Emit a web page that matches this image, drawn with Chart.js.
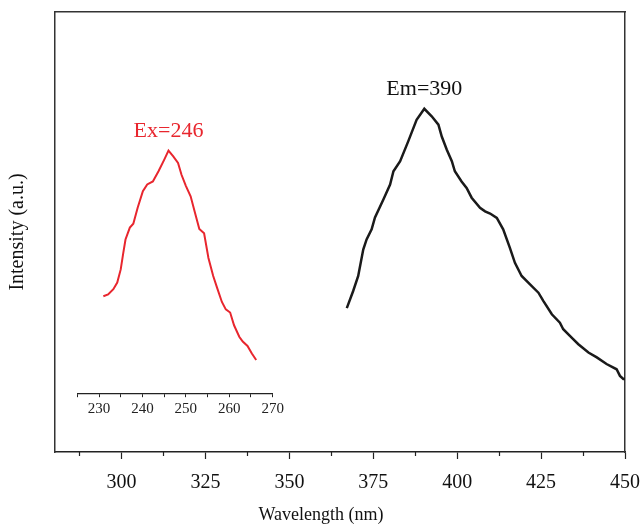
<!DOCTYPE html>
<html><head><meta charset="utf-8">
<script src="https://cdn.jsdelivr.net/npm/chart.js@4"></script>
<style>
html,body{margin:0;padding:0;background:#fff;}
#wrap{position:relative;width:642px;height:526px;overflow:hidden;}
#wrap canvas{position:absolute;left:0;top:0;}
</style></head><body>
<div id="wrap"><canvas id="main" width="642" height="526"></canvas><canvas id="inset" width="642" height="526"></canvas></div>
<script>
// Emission spectrum (black)
const emWavelength = [367.1,369.0,370.5,372.0,373.0,374.5,375.5,378.0,380.0,381.0,383.0,385.4,387.9,390.2,392.4,394.4,395.4,396.9,398.4,399.3,401.3,402.8,404.3,406.8,408.3,409.8,411.8,413.7,415.7,417.2,419.2,421.7,424.2,425.7,428.2,430.6,431.6,434.1,436.1,439.1,441.6,444.5,447.5,448.5,449.5,450.0];
const emIntensity  = [32.7,36.6,40.0,46.0,48.3,50.6,53.3,57.4,60.8,63.8,66.1,70.6,75.5,78.0,76.3,74.4,71.7,68.7,66.1,63.8,61.5,60.0,57.8,55.5,54.7,54.2,53.2,50.6,46.4,43.0,40.0,38.1,36.2,34.3,31.3,29.4,27.9,26.0,24.5,22.6,21.5,20.0,18.8,17.3,16.6,16.6];
// Excitation spectrum (red, inset axis)
const exWavelength = [231.0,232.1,233.3,234.2,235.0,235.6,236.1,237.1,237.9,238.9,240.1,241.1,242.4,243.7,245.0,246.0,247.1,248.2,249.0,250.0,251.1,252.1,253.1,254.2,255.2,256.3,257.2,258.3,259.2,260.2,261.1,262.3,263.1,264.2,265.2,266.2];
const exIntensity  = [35.4,35.8,37.0,38.5,41.5,45.3,48.3,51.0,51.9,55.5,59.3,60.8,61.5,63.8,66.4,68.5,67.2,65.7,63.0,60.5,58.1,54.4,50.7,49.7,44.1,40.0,37.3,34.1,32.4,31.7,28.8,26.2,25.1,24.1,22.4,20.9];
// Tick values and labels
const mainMajorTicks = [300,325,350,375,400,425,450];
const mainMinorTicks = [287.5,312.5,337.5,362.5,387.5,412.5,437.5];
const insetMajorTicks = [230,240,250,260,270];
const insetAllTicks = [225,230,235,240,245,250,255,260,265,270];
const emLabel = 'Em=390';
const exLabel = 'Ex=246';
const xTitle = 'Wavelength (nm)';
const yTitle = 'Intensity (a.u.)';

const serif = "'Liberation Serif','Times New Roman',serif";
Chart.defaults.font.family = serif;
Chart.defaults.color = '#111';

const peakLabel = {
  id: 'peakLabel',
  afterDatasetsDraw(chart, args, opts) {
    const ds = chart.data.datasets[0];
    let best = ds.data[0];
    ds.data.forEach(p => { if (p.y > best.y) best = p; });
    const xs = chart.scales.x, ys = chart.scales.y;
    const ctx = chart.ctx;
    ctx.save();
    ctx.font = opts.font;
    ctx.fillStyle = opts.color;
    ctx.textAlign = 'center';
    ctx.textBaseline = 'alphabetic';
    ctx.fillText(opts.text, xs.getPixelForValue(best.x) + (opts.dx || 0), ys.getPixelForValue(best.y) - opts.dy);
    ctx.restore();
  }
};

const frame = {display:true, color:'#333', width:1.5};
const noGrid = {drawOnChartArea:false, drawTicks:false};

new Chart(document.getElementById('main'), {
  type: 'line',
  data: { datasets: [{
    data: emWavelength.map((x, i) => ({x, y: emIntensity[i]})),
    xAxisID: 'x', yAxisID: 'y',
    borderColor: '#1a1a1a', borderWidth: 2.5, pointRadius: 0, tension: 0, fill: false
  }]},
  options: {
    responsive: false, animation: false, events: [],
    layout: {padding: 0},
    plugins: {
      legend: {display: false}, tooltip: {enabled: false},
      title: {display: true, text: xTitle, position: 'bottom', color: '#111',
        font: {size: 18, weight: 'normal', family: serif}, padding: {top: 2, bottom: 0}},
      peakLabel: {text: emLabel, font: "22px 'Liberation Serif'", color: '#111', dy: 14, dx: 0}
    },
    scales: {
      x: { type: 'linear', position: 'bottom', min: 280, max: 450,
        afterBuildTicks: s => { s.ticks = mainMajorTicks.map(v => ({value: v})); },
        afterFit: s => { s.height = 50.4; s.paddingLeft = 0; s.paddingRight = 0; },
        ticks: { font: {size: 20}, color: '#111', padding: 12, maxRotation: 0, autoSkip: false },
        grid: { drawOnChartArea: false, drawTicks: true, tickLength: 7, tickColor: '#222', tickWidth: 1.2 },
        border: {display: true, color: '#222', width: 1.5} },
      xm: { type: 'linear', position: {y: 0}, min: 280, max: 450,
        afterBuildTicks: s => { s.ticks = mainMinorTicks.map(v => ({value: v})); },
        ticks: { display: false },
        grid: { drawOnChartArea: false, drawTicks: true, tickLength: 4, tickColor: '#222', tickWidth: 1.2 },
        border: {display: false} },
      xt: { type: 'linear', position: 'top', ticks: {display: false}, grid: noGrid, border: frame,
        afterFit: s => { s.height = 12; } },
      y: { type: 'linear', position: 'left', min: 0, max: 100,
        ticks: {display: false}, grid: noGrid, border: frame,
        title: {display: true, text: yTitle, color: '#111', font: {size: 20}, padding: {top: 6, bottom: 0}},
        afterFit: s => { s.width = 54.5; } },
      yr: { type: 'linear', position: 'right', ticks: {display: false}, grid: noGrid, border: frame,
        afterFit: s => { s.width = 17; } }
    }
  },
  plugins: [peakLabel]
});

new Chart(document.getElementById('inset'), {
  type: 'line',
  data: { datasets: [{
    data: exWavelength.map((x, i) => ({x, y: exIntensity[i]})),
    xAxisID: 'x', yAxisID: 'y',
    borderColor: '#e8262e', borderWidth: 2, pointRadius: 0, tension: 0, fill: false
  }]},
  options: {
    responsive: false, animation: false, events: [],
    layout: {padding: {left: 77.3, right: 369.3, top: 12, bottom: 74}},
    plugins: {
      legend: {display: false}, tooltip: {enabled: false},
      peakLabel: {text: exLabel, font: "22px 'Liberation Serif'", color: '#e8262e', dy: 14, dx: 0}
    },
    scales: {
      x: { type: 'linear', position: {y: 13.2}, min: 225, max: 270,
        afterBuildTicks: s => { s.ticks = insetAllTicks.map(v => ({value: v})); },
        ticks: { font: {size: 15}, color: '#222', padding: 3, maxRotation: 0, autoSkip: false,
          callback: v => insetMajorTicks.includes(v) ? String(v) : '' },
        grid: { drawOnChartArea: false, drawTicks: true, tickLength: 3, tickColor: '#222', tickWidth: 1 },
        border: {display: true, color: '#222', width: 1.2} },
      y: { type: 'linear', display: false, min: 0, max: 100 }
    }
  },
  plugins: [peakLabel]
});
</script>
</body></html>
